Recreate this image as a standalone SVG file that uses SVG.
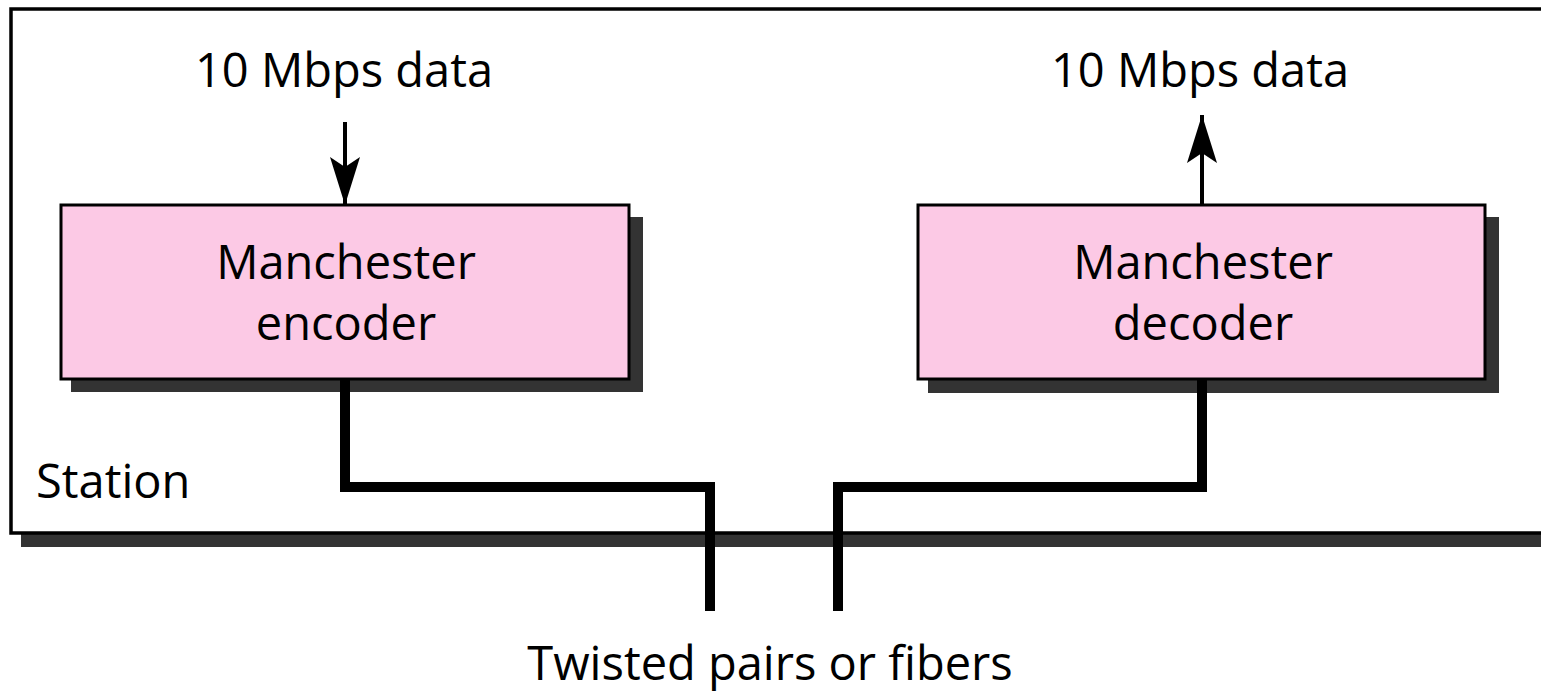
<svg xmlns="http://www.w3.org/2000/svg" width="1541" height="691" viewBox="0 0 1541 691">
<style>
.t{font-family:"Open Sans","Noto Sans",sans-serif;font-size:47px;fill:#000}
.m{text-anchor:middle}
.shadow{fill:#333}
.box{fill:#fcc9e5;stroke:#000;stroke-width:3}
.wire{fill:none;stroke:#000;stroke-width:10;stroke-linejoin:miter;stroke-linecap:butt}
.arr{fill:none;stroke:#000;stroke-width:4}
</style>
<defs>
<marker id="ah2" viewBox="0 0 48 30" refX="48" refY="15" markerWidth="48" markerHeight="30" markerUnits="userSpaceOnUse" orient="auto">
<path d="M0,0 L48,15 L0,30 L10,15 Z" fill="#000"/>
</marker>
</defs>
<g id="station">
<rect class="shadow" x="21" y="20" width="1530" height="527"/>
<rect x="11" y="9" width="1540" height="524" fill="#fff" stroke="#000" stroke-width="3.5"/>
<text class="t" x="36" y="498">Station</text>
</g>
<g id="encoder">
<rect class="shadow" x="71" y="217" width="572" height="175"/>
<rect class="box" x="61" y="205" width="568" height="174"/>
<text class="t m" x="346" y="279">Manchester</text>
<text class="t m" x="346" y="340">encoder</text>
</g>
<g id="decoder">
<rect class="shadow" x="928" y="217" width="571" height="176"/>
<rect class="box" x="918" y="205" width="567" height="174"/>
<text class="t m" x="1203" y="279">Manchester</text>
<text class="t m" x="1203" y="340">decoder</text>
</g>
<g id="labels">
<text class="t m" x="344" y="87">10 Mbps data</text>
<text class="t m" x="1200" y="87">10 Mbps data</text>
<text class="t m" x="770" y="680">Twisted pairs or fibers</text>
</g>
<g id="connectors">
<line class="arr" x1="345" y1="122" x2="345" y2="205" marker-end="url(#ah2)"/>
<line class="arr" x1="1202" y1="204" x2="1202" y2="115" marker-end="url(#ah2)"/>
<path class="wire" d="M345,380 V487 H710 V611"/>
<path class="wire" d="M1202,380 V487 H838 V611"/>
</g>
</svg>
